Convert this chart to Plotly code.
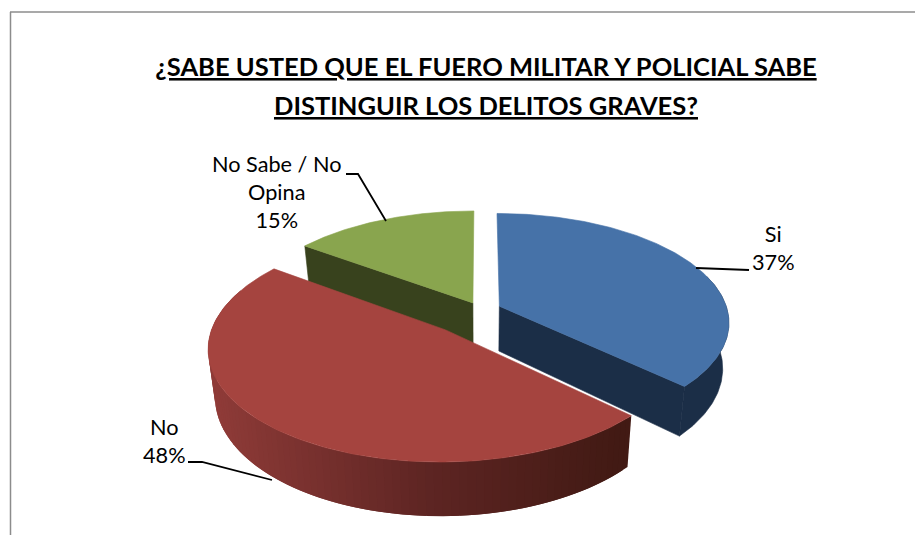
import math
import numpy as np
import plotly.graph_objects as go

# ---- data ----
categories = ["Si", "No", "No Sabe / No<br>Opina"]
values = [37, 48, 15]
title_lines = ["¿SABE USTED QUE EL FUERO MILITAR Y POLICIAL SABE",
               "DISTINGUIR LOS DELITOS GRAVES?"]

# ---- styling ----
top_colors = ["#4672A8", "#A5443F", "#89A54E"]
face_colors = ["#1B2E47", "#421A14", "#38421D"]
explode = [0.09, 0.235, 0.075]
persp = [7.0, 7.0, 7.0]
CX, CY, RX, RY, DEPTH, LOW = 480.6, 310.0, 228.0, 107.0, 45.0, 0.975
FONT = "Lato"


def spans():
    total = sum(values)
    out, a = [], 0.0
    for v in values:
        b = a + 2 * math.pi * v / total
        out.append((a, b))
        a = b
    return out


def proj(theta, r, i, mid):
    x = r * np.sin(theta) + explode[i] * math.sin(mid)
    y = r * np.cos(theta) + explode[i] * math.cos(mid)
    s = persp[i] / (persp[i] + y)
    return CX + RX * x * s, CY - RY * y * s, s


def low(X, Y, s):
    return CX + (X - CX) * LOW, Y + DEPTH * s


def poly(xs, ys, color, width=0.6):
    return go.Scatter(x=list(xs), y=list(ys), mode="lines", fill="toself",
                      fillcolor=color, line=dict(color=color, width=width),
                      hoverinfo="skip", showlegend=False)


def mix(c1, c2, t):
    a = [int(c1[k:k + 2], 16) for k in (1, 3, 5)]
    b = [int(c2[k:k + 2], 16) for k in (1, 3, 5)]
    return "#%02x%02x%02x" % tuple(round(p + (q - p) * t) for p, q in zip(a, b))


def red_side(xval):
    if xval < 430:
        return mix("#8F3B38", "#5E2523", max(0, (xval - 213) / 217))
    return mix("#5E2523", "#421A14", min(1, (xval - 430) / 190))


fig = go.Figure()
sp = spans()


def radial_face(i, theta):
    a, b = sp[i]
    mid = (a + b) / 2
    X0, Y0, s0 = proj(np.array([0.0]), 0.0, i, mid)
    X1, Y1, s1 = proj(np.array([theta]), 1.0, i, mid)
    x0l, y0l = low(X0[0], Y0[0], s0[0])
    x1l, y1l = low(X1[0], Y1[0], s1[0])
    fig.add_trace(poly([X0[0], X1[0], x1l, x0l, X0[0]],
                       [Y0[0], Y1[0], y1l, y0l, Y0[0]], face_colors[i]))


def top_face(i):
    a, b = sp[i]
    mid = (a + b) / 2
    th = np.linspace(a, b, 160)
    X, Y, _ = proj(th, 1.0, i, mid)
    X0, Y0, _ = proj(np.array([0.0]), 0.0, i, mid)
    fig.add_trace(poly([X0[0], *X, X0[0]], [Y0[0], *Y, Y0[0]], top_colors[i]))


# green: cut face, then top
radial_face(2, sp[2][0])
top_face(2)

# blue: outer wall, cut face, top
a, b = sp[0]
m = (a + b) / 2
th = np.linspace(math.pi / 2 - 0.3, b, 80)
X, Y, S = proj(th, 1.0, 0, m)
Xl, Yl = low(X, Y, S)
fig.add_trace(poly([*X, *Xl[::-1]], [*Y, *Yl[::-1]], face_colors[0]))
radial_face(0, b)
top_face(0)

# red: shaded outer wall in overlapping strips, then top
a, b = sp[1]
m = (a + b) / 2
edges = np.linspace(a, min(b, 1.62 * math.pi), 90)
for k in range(len(edges) - 1):
    # painted right to left, each strip reaching under the next one
    th = np.linspace(edges[k], edges[min(k + 2, len(edges) - 1)], 4)
    X, Y, S = proj(th, 1.0, 1, m)
    Xl, Yl = low(X, Y, S)
    fig.add_trace(poly([*X, *Xl[::-1]], [*Y, *Yl[::-1]],
                       red_side(X[0]), width=0))
top_face(1)

# leader lines
leaders = [([696, 749], [268, 270]),
           ([188, 202, 272], [462, 462, 480]),
           ([346, 358, 386], [174, 174, 221])]
for lx, ly in leaders:
    fig.add_trace(go.Scatter(x=lx, y=ly, mode="lines",
                             line=dict(color="black", width=1.8),
                             hoverinfo="skip", showlegend=False))

# labels
label_pos = [(773, 248), (164, 441), (277, 192)]
for c, v, (lx, ly) in zip(categories, values, label_pos):
    fig.add_annotation(x=lx, y=ly, text=f"{c}<br>{v}%", showarrow=False,
                       font=dict(family=FONT, size=21.7, color="black"),
                       align="center", xanchor="center", yanchor="middle")

# frame
fig.add_shape(type="line", x0=10.5, x1=10.5, y0=12, y1=535,
              line=dict(color="#8C8C8C", width=1.5))
fig.add_shape(type="line", x0=10, x1=915, y0=12, y1=12,
              line=dict(color="#8C8C8C", width=1.5))

title_text = "<br>".join(f'<b><u><span style="font-size:25.5px">{t}</span></u></b>'
                         for t in title_lines)
fig.update_layout(
    width=915, height=535, margin=dict(l=0, r=0, t=0, b=0),
    paper_bgcolor="white", plot_bgcolor="white",
    title=dict(text=title_text, x=486 / 915, xanchor="center", y=1 - 76 / 535,
               yanchor="middle", font=dict(family=FONT, size=30, color="black")),
    xaxis=dict(range=[0, 915], visible=False, fixedrange=True),
    yaxis=dict(range=[535, 0], visible=False, fixedrange=True),
    showlegend=False,
)
page_css = ("document.body.style.margin='0';"
            "var s=document.createElement('style');"
            "s.textContent='text,tspan{text-decoration-skip-ink:none}';"
            "document.head.appendChild(s);")
fig.write_html("out.html", config={"displayModeBar": False}, post_script=page_css)
